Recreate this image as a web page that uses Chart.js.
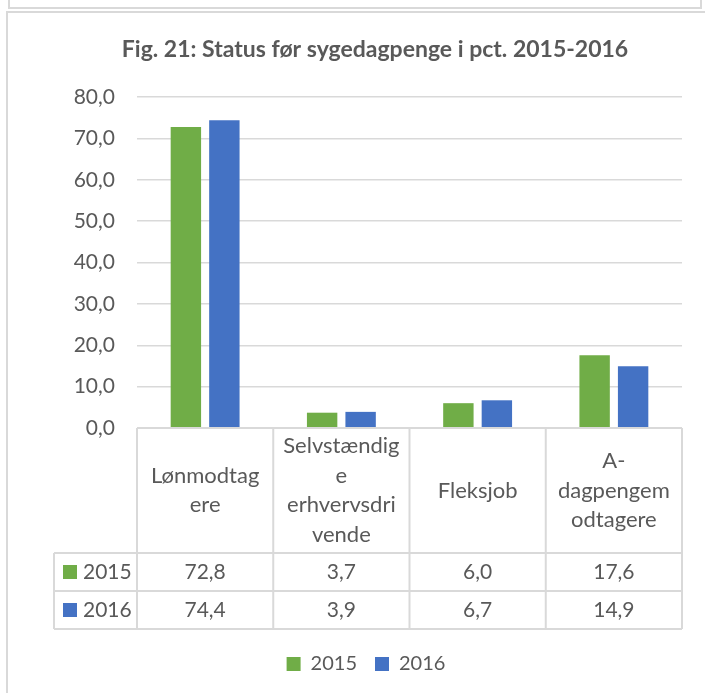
<!DOCTYPE html>
<html>
<head>
<meta charset="utf-8">
<script src="https://cdn.jsdelivr.net/npm/chart.js@4"></script>
<style>
  html, body { margin: 0; padding: 0; background: #fff; overflow: hidden; width: 705px; height: 693px; }
  #top-box { position: absolute; left: 8px; top: -12px; width: 694px; height: 21px; border: 2px solid #d9d9d9; box-sizing: border-box; }
  #frame { position: absolute; left: 6px; top: 11px; width: 760px; height: 720px; border: 2px solid #d9d9d9; box-sizing: border-box; }
  #wrap { position: absolute; left: 8px; top: 13px; width: 734px; height: 680px; }
</style>
</head>
<body>
<div id="top-box"></div>
<div id="frame"></div>
<div id="wrap"><canvas id="chart"></canvas></div>
<script>
// data
const categories = ['Lønmodtagere', 'Selvstændige erhvervsdrivende', 'Fleksjob', 'A-dagpengemodtagere'];
// sådan som Excel brød teksten i tabellens hoved
const categoryLines = [
  ['Lønmodtag', 'ere'],
  ['Selvstændig', 'e', 'erhvervsdri', 'vende'],
  ['Fleksjob'],
  ['A-', 'dagpengem', 'odtagere']
];
const seriesNames = ['2015', '2016'];
const values2015 = [72.8, 3.7, 6.0, 17.6];
const values2016 = [74.4, 3.9, 6.7, 14.9];
const yMin = 0, yMax = 80, yStep = 10;

const GREEN = '#70ad47';
const BLUE = '#4472c4';
const TEXT = '#595959';
const LINE = '#d9d9d9';
const FONT = 'Lato, "Open Sans", sans-serif';

const fmt = v => v.toFixed(1).replace('.', ',');

// datatabel under akserne
const tablePlugin = {
  id: 'dataTable',
  afterLayout(chart) {
    // forklaringen sidder lidt til venstre for midten i originalen
    if (chart.legend) { chart.legend.left -= 9; chart.legend.right -= 9; }
  },
  afterDraw(chart) {
    const { ctx, chartArea, scales: { x } } = chart;
    const colW = (chartArea.right - chartArea.left) / categories.length;
    const top = chartArea.bottom;
    const headBottom = top + 125;
    const rowH = 38;
    const bottom = headBottom + rowH * seriesNames.length;
    const rowLeft = chartArea.left - 83;

    const line = (x1, y1, x2, y2) => {
      ctx.beginPath(); ctx.moveTo(x1, y1); ctx.lineTo(x2, y2); ctx.stroke();
    };

    ctx.save();
    ctx.strokeStyle = LINE;
    ctx.lineWidth = 2;
    line(chartArea.left, top, chartArea.right, top);
    for (let r = 0; r <= seriesNames.length; r++) {
      const yy = headBottom + r * rowH;
      line(rowLeft, yy, chartArea.right, yy);
    }
    for (let i = 0; i <= categories.length; i++) {
      const xx = chartArea.left + i * colW;
      line(xx, top, xx, bottom);
    }
    line(rowLeft, headBottom, rowLeft, bottom);

    ctx.fillStyle = TEXT;
    ctx.font = '22px ' + FONT;
    ctx.textAlign = 'center';
    ctx.textBaseline = 'middle';
    const lh = 29.5;
    categoryLines.forEach((lines, i) => {
      const cx = x.getPixelForValue(i);
      const y0 = (top + headBottom) / 2 - (lines.length - 1) * lh / 2;
      lines.forEach((t, j) => ctx.fillText(t, cx, y0 + j * lh));
    });

    ctx.font = '21px ' + FONT;
    chart.data.datasets.forEach((ds, r) => {
      const cy = headBottom + r * rowH + rowH / 2;
      ctx.fillStyle = ds.backgroundColor;
      ctx.fillRect(rowLeft + 9, cy - 7, 14, 14);
      ctx.fillStyle = TEXT;
      ctx.textAlign = 'left';
      ctx.fillText(ds.label, rowLeft + 29, cy);
      ctx.textAlign = 'center';
      ds.data.forEach((v, i) => ctx.fillText(fmt(v), x.getPixelForValue(i), cy));
    });
    ctx.restore();
  }
};

new Chart(document.getElementById('chart'), {
  type: 'bar',
  data: {
    labels: categories,
    datasets: [
      { label: seriesNames[0], data: values2015, backgroundColor: GREEN },
      { label: seriesNames[1], data: values2016, backgroundColor: BLUE }
    ]
  },
  options: {
    responsive: true,
    maintainAspectRatio: false,
    animation: false,
    layout: { padding: { left: 60, right: 60, top: 23, bottom: 9 } },
    datasets: { bar: { categoryPercentage: 0.565, barPercentage: 0.79 } },
    scales: {
      x: {
        ticks: { display: false },
        grid: { display: false },
        border: { display: false },
        afterFit: s => { s.height = 208; }
      },
      y: {
        min: yMin, max: yMax,
        ticks: {
          stepSize: yStep,
          padding: 22,
          color: TEXT,
          font: { family: FONT, size: 21 },
          callback: v => fmt(v)
        },
        grid: { color: LINE, lineWidth: 1.5, drawTicks: false },
        border: { display: false },
        afterFit: s => { s.width = 69; }
      }
    },
    plugins: {
      title: {
        display: true,
        text: 'Fig. 21: Status før sygedagpenge i pct. 2015-2016',
        color: TEXT,
        font: { family: FONT, size: 23, weight: 'bold' },
        padding: { top: 0, bottom: 33.5 }
      },
      legend: {
        position: 'bottom',
        labels: {
          boxWidth: 14, boxHeight: 14, padding: 18,
          color: TEXT,
          font: { family: FONT, size: 20 }
        }
      },
      tooltip: { enabled: false }
    }
  },
  plugins: [tablePlugin]
});
</script>
</body>
</html>
